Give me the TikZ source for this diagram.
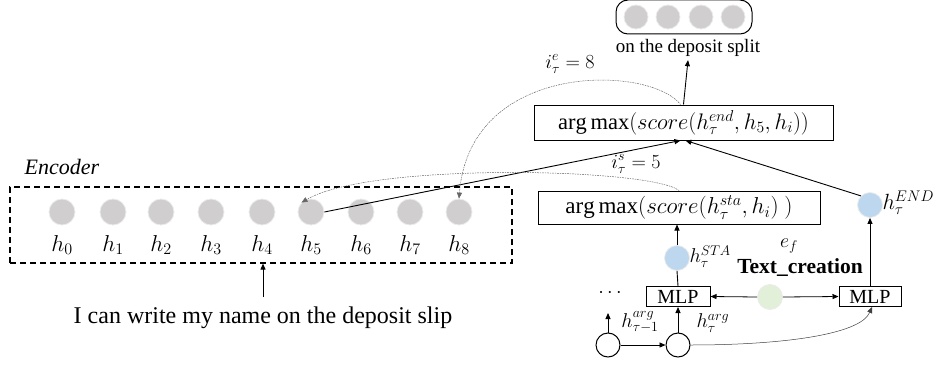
\RequirePackage{fix-cm}
\documentclass[tikz,border=0pt]{standalone}
\usepackage{fontspec}
\setmainfont{Liberation Serif}
\usetikzlibrary{arrows.meta}
\definecolor{gcirc}{HTML}{D0CECE}
\definecolor{bcirc}{HTML}{BDD7EE}
\definecolor{grcirc}{HTML}{E2F0D9}
\begin{document}
\begin{tikzpicture}[x=1pt,y=-1pt,
  every node/.style={font=\fontsize{20}{24}\selectfont},
  enc/.style={circle, fill=gcirc, draw=black!8, line width=0.8pt, minimum size=26pt, inner sep=0pt},
  bl/.style={circle, fill=bcirc, draw=black!8, line width=0.8pt, minimum size=25pt, inner sep=0pt},
  gr/.style={circle, fill=grcirc, draw=black!8, line width=0.8pt, minimum size=25pt, inner sep=0pt},
  wc/.style={circle, fill=white, draw=black, line width=1pt, minimum size=24pt, inner sep=0pt},
  boxn/.style={draw=black, line width=1pt, inner sep=0pt},
  arr/.style={-{Triangle[length=6pt,width=5pt]}, line width=0.9pt},
  thinarr/.style={-{Triangle[length=6pt,width=5pt]}, line width=0.5pt, draw=black!75},
  dotc/.style={-{Triangle[length=6pt,width=5pt]}, line width=0.5pt, draw=black!60, dash pattern=on 1pt off 1pt on 2pt off 1pt}
]
\useasboundingbox (0,0) rectangle (936,369);

% Encoder
\node[draw=black, dashed, dash pattern=on 6pt off 4pt, line width=1.2pt, minimum width=502pt, minimum height=76pt, inner sep=0pt] (encbox) at (261,225) {};
\node[font=\fontsize{22}{26}\selectfont\itshape] (enclabel) at (62,167) {Encoder};
\foreach \i/\x in {0/62,1/113,2/161,3/211,4/262,5/311,6/361,7/410,8/459} {
  \node[enc] (h\i) at (\x,212) {};
  \node[font=\fontsize{23}{26}\selectfont] (l\i) at (\x,245) {$h_{\i}$};
}
\node[font=\fontsize{24}{28}\selectfont] (sent) at (263,318) {I can write my name on the deposit slip};
\coordinate (sentTop) at (263,297);
\draw[arr] (sentTop) -- (encbox.south -| sentTop);

% Top output
\node[draw=black, line width=1pt, rounded corners=12pt, minimum width=136pt, minimum height=34pt, inner sep=0pt] (outbox) at (684,17) {};
\foreach \j/\x in {1/636,2/668,3/701,4/733} {
  \node[enc, minimum size=24pt] (o\j) at (\x,17) {};
}
\node[font=\fontsize{19}{22}\selectfont] (outlab) at (688,48) {on the deposit split};

% End box
\node[boxn, minimum width=299pt, minimum height=35pt, font=\fontsize{22.5}{26}\selectfont] (endbox) at (683.5,122.5) {$\arg\max(score(h_\tau^{end},h_5,h_i))$};
\draw[arr] (endbox.north) -- (outlab.south);

% Start box
\node[boxn, minimum width=282pt, minimum height=33pt, font=\fontsize{23}{26}\selectfont] (stabox) at (679,207.5) {$\arg\max(score(h_\tau^{sta},h_i)~)$};

% labels
\node (ie) at (570,64) {$i_\tau^e=8$};
\node (is) at (636,164) {$i_\tau^s=5$};

% Right column
\node[bl] (hend) at (870,205) {};
\node[anchor=west, font=\fontsize{22}{24}\selectfont] (hendl) at (879,203) {$h_\tau^{END}$};
\node[bl] (hsta) at (677,258) {};
\node[anchor=west] (hstal) at (686,257) {$h_\tau^{STA}$};
\node[boxn, minimum width=64pt, minimum height=20pt] (mlp1) at (678,296.5) {MLP};
\node[boxn, minimum width=62pt, minimum height=20pt] (mlp2) at (870,296.5) {MLP};
\node[gr] (ef) at (770,297) {};
\node (efl) at (789,246) {$e_f$};
\node[font=\fontsize{21.5}{24}\selectfont\bfseries] (tc) at (800,268) {Text\_creation};
\node (dots) at (610,293) {$\cdots$};
\node[wc] (c1) at (608,345) {};
\node[wc] (c2) at (678,345) {};
\node (c1l) at (640,322) {$h_{\tau-1}^{arg}$};
\node (c2l) at (713,323) {$h_\tau^{arg}$};

% connectors
\draw[arr] (h5.east) -- ([xshift=-3pt]endbox.south);
\draw[arr] (hend.north west) -- ([xshift=2pt]endbox.south);
\draw[arr] (mlp2.north) -- (hend.south);
\draw[line width=0.9pt] (mlp1.north) -- (hsta.south);
\draw[arr] (hsta.north) -- (stabox.south -| hsta.north);
\draw[thinarr, line width=0.8pt, draw=black] (ef.west) -- (mlp1.east);
\draw[thinarr, line width=0.8pt, draw=black] (ef.east) -- (mlp2.west);
\draw[arr] (c1.east) -- (c2.west);
\coordinate (c1up) at (608,313);
\draw[arr] (c1.north) -- (c1up);
\draw[arr] (c2.north) -- (mlp1.south -| c2.north);
\draw[thinarr] (c2.east) .. controls (780,345) and (860,335) .. ([xshift=2pt]mlp2.south);

% dotted curves
\draw[dotc] (stabox.north) .. controls (650,168) and (370,162) .. (h5.north west);
\draw[dotc] ([xshift=-3pt]endbox.north) .. controls (650,65) and (470,60) .. (h8.north);
\end{tikzpicture}
\end{document}
